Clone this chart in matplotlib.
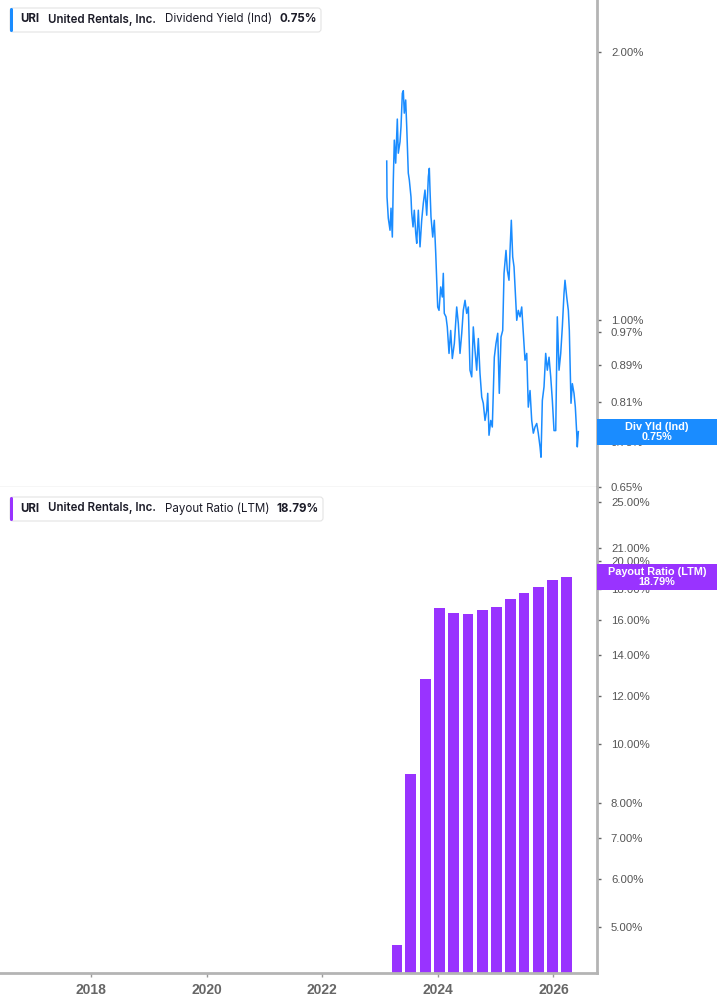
import matplotlib.pyplot as plt
from matplotlib.patches import FancyBboxPatch, Rectangle
from matplotlib.transforms import IdentityTransform

W, H = 717, 1005

# dividend yield (Ind), % -- decimal years
yld_t = [2023.115, 2023.120, 2023.142, 2023.172, 2023.189, 2023.212, 2023.229, 2023.246,
         2023.270, 2023.298, 2023.315, 2023.345, 2023.362, 2023.385, 2023.402, 2023.419,
         2023.443, 2023.461, 2023.488, 2023.506, 2023.535, 2023.547, 2023.570, 2023.592,
         2023.617, 2023.634, 2023.662, 2023.691, 2023.720, 2023.748, 2023.777, 2023.807,
         2023.835, 2023.852, 2023.864, 2023.881, 2023.911, 2023.938, 2023.963, 2023.980,
         2023.997, 2024.020, 2024.049, 2024.077, 2024.094, 2024.111, 2024.141, 2024.163,
         2024.193, 2024.222, 2024.250, 2024.285, 2024.326, 2024.354, 2024.383, 2024.413,
         2024.440, 2024.470, 2024.499, 2024.527, 2024.556, 2024.586, 2024.613, 2024.643,
         2024.672, 2024.700, 2024.729, 2024.759, 2024.786, 2024.816, 2024.845, 2024.863,
         2024.885, 2024.915, 2024.942, 2024.977, 2025.006, 2025.036, 2025.063, 2025.093,
         2025.122, 2025.145, 2025.179, 2025.202, 2025.231, 2025.249, 2025.271, 2025.295,
         2025.318, 2025.335, 2025.365, 2025.392, 2025.422, 2025.451, 2025.479, 2025.508,
         2025.538, 2025.565, 2025.595, 2025.624, 2025.652, 2025.681, 2025.711, 2025.738,
         2025.768, 2025.785, 2025.808, 2025.837, 2025.866, 2025.894, 2025.924, 2025.953,
         2025.981, 2026.010, 2026.040, 2026.067, 2026.097, 2026.126, 2026.154, 2026.183,
         2026.200, 2026.230, 2026.258, 2026.275, 2026.304, 2026.327, 2026.356, 2026.379,
         2026.403, 2026.413, 2026.431]
yld_v = [1.509, 1.375, 1.302, 1.262, 1.336, 1.240, 1.437, 1.593,
         1.501, 1.682, 1.540, 1.586, 1.649, 1.798, 1.810, 1.708,
         1.767, 1.649, 1.463, 1.437, 1.375, 1.319, 1.273, 1.329,
         1.252, 1.220, 1.329, 1.209, 1.295, 1.353, 1.400, 1.312,
         1.449, 1.481, 1.400, 1.306, 1.240, 1.295, 1.189, 1.109,
         1.035, 1.026, 1.090, 1.062, 1.129, 1.018, 1.009, 0.983,
         0.918, 0.974, 0.906, 0.942, 1.035, 0.992, 0.918, 0.967,
         1.026, 1.053, 1.018, 1.035, 0.879, 0.864, 0.983, 0.925,
         0.879, 0.954, 0.872, 0.820, 0.807, 0.772, 0.792, 0.828,
         0.743, 0.772, 0.759, 0.909, 0.942, 0.967, 0.828, 0.958,
         0.974, 1.129, 1.198, 1.138, 1.109, 1.198, 1.295, 1.178,
         1.148, 1.090, 1.000, 1.026, 1.009, 1.035, 0.967, 0.902,
         0.918, 0.799, 0.834, 0.772, 0.747, 0.759, 0.766, 0.747,
         0.721, 0.702, 0.813, 0.842, 0.918, 0.879, 0.909, 0.864,
         0.813, 0.752, 0.752, 1.009, 0.879, 0.918, 0.983, 1.072,
         1.109, 1.062, 1.026, 0.974, 0.807, 0.849, 0.828, 0.799,
         0.747, 0.721, 0.750]

# payout ratio (LTM), % -- quarterly
pay_t = [2023.293, 2023.532, 2023.783, 2024.032, 2024.274, 2024.522, 2024.767,
         2025.015, 2025.254, 2025.491, 2025.738, 2025.988, 2026.230]
pay_v = [4.67, 8.92, 12.77, 16.71, 16.40, 16.38, 16.61, 16.82, 17.29, 17.72,
         18.08, 18.59, 18.79]

yld_ticks = [0.65, 0.73, 0.81, 0.89, 0.97, 1.00, 2.00]
pay_ticks = [5, 6, 7, 8, 10, 12, 14, 16, 18, 20, 21, 25]
years = [2018, 2020, 2022, 2024, 2026]

blue = '#1a8cff'
purple = '#9933ff'

plt.rcParams['font.family'] = ['Liberation Sans', 'DejaVu Sans']

fig = plt.figure(figsize=(W / 100, H / 100), dpi=100)
ax1 = fig.add_axes([0, 1 - 487 / H, 597 / W, 487 / H])
ax2 = fig.add_axes([0, 1 - 973 / H, 597 / W, 486 / H])


def style(ax, ticks, fmt):
    ax.set_yscale('log')
    ax.yaxis.tick_right()
    ax.set_yticks(ticks)
    ax.set_yticklabels([fmt % t for t in ticks])
    ax.yaxis.set_minor_locator(plt.NullLocator())
    ax.tick_params(axis='y', which='major', direction='out', length=3, width=1,
                   color='#666666', pad=7, labelsize=8.2, labelcolor='#555555')
    ax.spines['left'].set_visible(False)
    ax.spines['top'].set_visible(False)
    ax.spines['right'].set_color('#b4b4b4')
    ax.spines['right'].set_linewidth(2)
    ax.set_xlim(2016.422, 2026.754)


style(ax1, yld_ticks, '%.2f%%')
style(ax2, pay_ticks, '%.2f%%')

ax1.plot(yld_t, yld_v, color=blue, lw=1.1)
ax1.set_ylim(0.65, 2.288)
ax1.set_xticks([])
ax1.spines['bottom'].set_color('#d4d4d4')
ax1.spines['bottom'].set_linewidth(1)

ax2.bar(pay_t, pay_v, width=0.185, color=purple)
ax2.set_ylim(4.20, 26.45)
ax2.set_xticks(years)
ax2.set_xticklabels([str(y) for y in years])
ax2.tick_params(axis='x', direction='out', length=3, width=1, color='#999999',
                pad=4, labelsize=10, labelcolor='#666666')
for lab in ax2.get_xticklabels():
    lab.set_fontweight('bold')
ax2.spines['bottom'].set_color('#b4b4b4')
ax2.spines['bottom'].set_linewidth(2)

ident = IdentityTransform()

# value tags on the right axis
for ax, val, col, name in [(ax1, 0.75, blue, 'Div Yld (Ind)'),
                           (ax2, 18.79, purple, 'Payout Ratio (LTM)')]:
    yc = ax.transData.transform((2020, val))[1]
    fig.add_artist(Rectangle((597, yc - 13), 120, 26, transform=ident,
                             facecolor=col, edgecolor='none', zorder=5))
    fig.text(657 / W, yc / H, '%s\n%.2f%%' % (name, val), ha='center', va='center',
             color='white', fontsize=7.8, fontweight='bold', linespacing=1.0,
             zorder=6)

# legend boxes in the top-left of each panel
for top, col, desc, val, xval, right in [(8, blue, 'Dividend Yield (Ind)', '0.75%', 279, 321),
                                         (497, purple, 'Payout Ratio (LTM)', '18.79%', 276, 323)]:
    y0 = H - top - 24
    fig.add_artist(FancyBboxPatch((10, y0), right - 10, 24, transform=ident,
                                  boxstyle='round,pad=0,rounding_size=3',
                                  facecolor='white', edgecolor='#e4e4e4', lw=0.8,
                                  zorder=5))
    fig.add_artist(FancyBboxPatch((10, y0), 3, 24, transform=ident,
                                  boxstyle='round,pad=0,rounding_size=1.5',
                                  facecolor=col, edgecolor='none', zorder=6))
    yc = (y0 + 12.5) / H
    kw = dict(va='center', ha='left', fontsize=8.3, color='#1c1c28', zorder=7,
              family=['Inter', 'DejaVu Sans'])
    fig.text(20 / W, yc, 'URI', fontweight='bold', **kw)
    fig.text(48 / W, yc, 'United Rentals, Inc.', fontweight='semibold', **kw)
    fig.text(165 / W, yc, desc, fontweight='normal', **kw)
    fig.text(xval / W, yc, val, fontweight='bold', **kw)

fig.savefig('out.png', dpi=100)
